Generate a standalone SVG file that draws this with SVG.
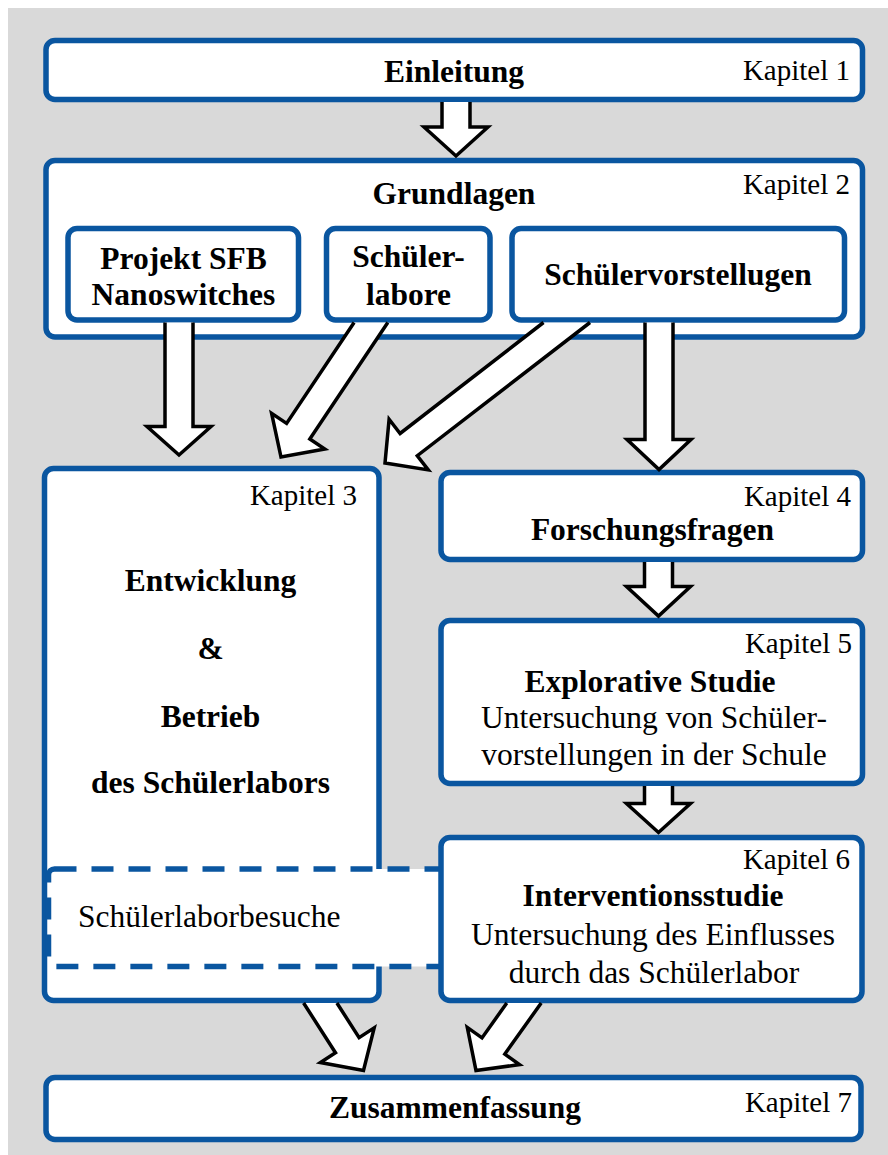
<svg xmlns="http://www.w3.org/2000/svg" width="888" height="1155" viewBox="0 0 888 1155">
<style>
.box{fill:#fff;stroke:#0a56a0;stroke-width:5.5}
.dash{fill:#fff;stroke:#0a56a0;stroke-width:5.5;stroke-dasharray:22 15}
.t{font-family:'Liberation Serif','Times New Roman',serif;font-size:31.5px;fill:#000}
.b{font-weight:bold}
.c{text-anchor:middle}
.k{font-family:'Liberation Serif','Times New Roman',serif;font-size:29px;fill:#000;text-anchor:end}
.af{fill:#fff;stroke:none}
.as{fill:none;stroke:#000;stroke-width:3.5;stroke-linejoin:miter;stroke-miterlimit:10}
</style>
<rect x="0" y="0" width="888" height="1155" fill="#fff"/>
<rect x="8" y="8" width="880" height="1147" fill="#d9d9d9"/>

<g id="kapitel1">
<rect class="box" x="46" y="40.5" width="816.5" height="59" rx="9"/>
<text class="t b c" x="454" y="82">Einleitung</text>
<text class="k" x="850" y="80">Kapitel 1</text>
</g>

<g id="kapitel2">
<rect class="box" x="46" y="160.5" width="816.5" height="176.5" rx="9"/>
<text class="t b c" x="454" y="204">Grundlagen</text>
<text class="k" x="850" y="194">Kapitel 2</text>
</g>

<g id="projekt">
<rect class="box" x="68" y="228.5" width="230.5" height="91.5" rx="9"/>
<text class="t b c" x="183.5" y="269">Projekt SFB</text>
<text class="t b c" x="183.5" y="305">Nanoswitches</text>
</g>

<g id="schuelerlabore">
<rect class="box" x="326.5" y="228.5" width="163.5" height="91.5" rx="9"/>
<text class="t b c" x="408.5" y="267">Schüler-</text>
<text class="t b c" x="408.5" y="305">labore</text>
</g>

<g id="schuelervorstellungen">
<rect class="box" x="512" y="228.5" width="332.5" height="91.5" rx="9"/>
<text class="t b c" x="678" y="285">Schülervorstellugen</text>
</g>

<g id="kapitel3">
<rect class="box" x="44.5" y="468.5" width="334.5" height="532" rx="9"/>
<text class="k" x="357" y="505">Kapitel 3</text>
<text class="t b c" x="210.5" y="591">Entwicklung</text>
<text class="t b c" x="210.5" y="659">&amp;</text>
<text class="t b c" x="210.5" y="727">Betrieb</text>
<text class="t b c" x="210.5" y="793">des Schülerlabors</text>
</g>

<g id="schuelerlaborbesuche">
<rect class="dash" x="48.5" y="869" width="397.5" height="97.5" rx="6"/>
<text class="t" x="78" y="927">Schülerlaborbesuche</text>
</g>

<g id="kapitel4">
<rect class="box" x="441" y="472.5" width="421.5" height="87" rx="9"/>
<text class="k" x="851" y="506">Kapitel 4</text>
<text class="t b c" x="652.5" y="540">Forschungsfragen</text>
</g>

<g id="kapitel5">
<rect class="box" x="441" y="620.5" width="421.5" height="163" rx="9"/>
<text class="k" x="852" y="653">Kapitel 5</text>
<text class="t b c" x="650" y="692">Explorative Studie</text>
<text class="t c" x="654" y="728">Untersuchung von Schüler-</text>
<text class="t c" x="654" y="765">vorstellungen in der Schule</text>
</g>

<g id="kapitel6">
<rect class="box" x="441" y="837.5" width="421" height="163" rx="9"/>
<text class="k" x="850" y="869">Kapitel 6</text>
<text class="t b c" x="653" y="906">Interventionsstudie</text>
<text class="t c" x="653" y="945">Untersuchung des Einflusses</text>
<text class="t c" x="654" y="983">durch das Schülerlabor</text>
</g>

<g id="kapitel7">
<rect class="box" x="46" y="1077.5" width="815" height="62" rx="9"/>
<text class="t b c" x="455" y="1118">Zusammenfassung</text>
<text class="k" x="852" y="1112">Kapitel 7</text>
</g>

<g id="connectors">
<polygon class="af" points="442,102 470,102 470,127 488,127 456,156 424,127 442,127"/>
<polyline class="as" points="470,102 470,127 488,127 456,156 424,127 442,127 442,102"/>

<polygon class="af" points="165,322.5 193,322.5 193,426.5 211,426.5 179,455 147,426.5 165,426.5"/>
<polyline class="as" points="193,322.5 193,426.5 211,426.5 179,455 147,426.5 165,426.5 165,322.5"/>

<polygon class="af" points="645,322.5 673,322.5 673,439.5 691,439.5 659,469.5 627,439.5 645,439.5"/>
<polyline class="as" points="673,322.5 673,439.5 691,439.5 659,469.5 627,439.5 645,439.5 645,322.5"/>

<polygon class="af" points="644.5,562 672.5,562 672.5,586.5 690.5,586.5 658.5,616 626.5,586.5 644.5,586.5"/>
<polyline class="as" points="672.5,562 672.5,586.5 690.5,586.5 658.5,616 626.5,586.5 644.5,586.5 644.5,562"/>

<polygon class="af" points="644.5,786 672.5,786 672.5,803.5 690.5,803.5 658.5,832.5 626.5,803.5 644.5,803.5"/>
<polyline class="as" points="672.5,786 672.5,803.5 690.5,803.5 658.5,832.5 626.5,803.5 644.5,803.5 644.5,786"/>

<polygon class="af" points="354.1,322.5 387.8,322.5 309.8,439 324.8,449 281,457 271.6,413.4 286.6,423.4"/>
<polyline class="as" points="387.8,322.5 309.8,439 324.8,449 281,457 271.6,413.4 286.6,423.4 354.1,322.5"/>

<polygon class="af" points="543.5,322.5 590,322.5 417.3,455.7 428.3,469.9 385,463 389.1,419.3 400.1,433.5"/>
<polyline class="as" points="590,322.5 417.3,455.7 428.3,469.9 385,463 389.1,419.3 400.1,433.5 543.5,322.5"/>

<polygon class="af" points="303.6,1003 336.9,1003 359.1,1037.6 374.2,1027.9 363.5,1070.5 320.4,1062.5 335.5,1052.8"/>
<polyline class="as" points="303.6,1003 335.5,1052.8 320.4,1062.5 363.5,1070.5 374.2,1027.9 359.1,1037.6 336.9,1003"/>

<polygon class="af" points="506.8,1003 541.2,1003 504.8,1054.1 519.5,1064.6 476,1070.5 467.3,1027.4 482,1037.9"/>
<polyline class="as" points="506.8,1003 482,1037.9 467.3,1027.4 476,1070.5 519.5,1064.6 504.8,1054.1 541.2,1003"/>
</g>
</svg>
